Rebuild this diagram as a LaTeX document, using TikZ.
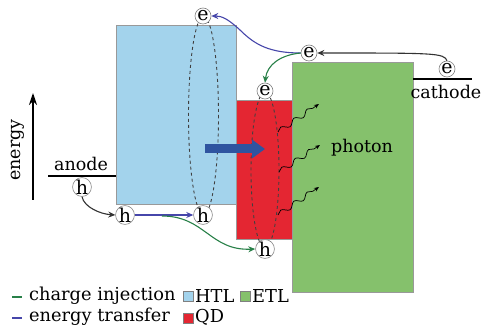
\documentclass[tikz,border=0pt]{standalone}
\usepackage{fontspec}
\setmainfont{DejaVu Serif}
\usetikzlibrary{arrows.meta,decorations.pathmorphing}
\definecolor{htlc}{RGB}{163,211,236}
\definecolor{qdc}{RGB}{228,38,50}
\definecolor{etlc}{RGB}{133,193,108}
\definecolor{bigblue}{RGB}{47,84,160}
\definecolor{etr}{RGB}{70,70,170}
\definecolor{cinj}{RGB}{40,128,72}
\tikzset{
  layer/.style={draw=gray!80, line width=0.6pt},
  carrier/.style={circle, draw=gray, fill=white, line width=0.6pt, inner sep=0pt, minimum size=16pt, font=\fontsize{19}{19}\selectfont},
  lbl/.style={font=\fontsize{17.5}{17.5}\selectfont, inner sep=0pt},
  leg/.style={font=\fontsize{17.8}{17.8}\selectfont, inner sep=0pt},
  ell/.style={dashed, draw=black!75, line width=0.9pt},
  arr/.style={line width=1.1pt, -{Stealth[length=7pt,width=6pt]}},
  wave/.style={line width=0.7pt, -{Stealth[length=5pt,width=4pt]}, decorate, decoration={snake, amplitude=2.5pt, segment length=16pt, post length=4pt}},
  sq/.style={draw=gray, line width=0.5pt, minimum size=10pt, inner sep=0pt}
}
\begin{document}
\begin{tikzpicture}[x=1pt,y=-1pt]
\useasboundingbox (0,0) rectangle (487,328);
% layers
\path[layer, fill=htlc] (116,25) rectangle (236,204);
\path[layer, fill=etlc] (292,62) rectangle (413,292);
\path[layer, fill=qdc] (236,100) rectangle (292,239);
% electrodes
\coordinate (anodeL) at (48,176);
\coordinate (anodeR) at (116,176);
\draw[line width=1.6pt] (anodeL) -- (anodeR);
\coordinate (cathL) at (413,79);
\coordinate (cathR) at (472,79);
\draw[line width=1.6pt] (cathL) -- (cathR);
\node[lbl] (anode) at (81,164) {anode};
\node[lbl] (cathode) at (446,92) {cathode};
\node[lbl] (photon) at (362,148) {photon};
% dashed ellipses
\draw[ell] (203.5,115.5) ellipse [x radius=15, y radius=99];
\draw[ell] (265,170) ellipse [x radius=14, y radius=78];
% big arrow
\coordinate (ba1) at (205,149);
\coordinate (ba2) at (265,149);
\draw[bigblue, line width=9pt, -{Triangle[length=13pt,width=18pt]}] (ba1) -- (ba2);
% photon waves
\coordinate (w1a) at (278,132); \coordinate (w1b) at (319,104);
\coordinate (w2a) at (279,172); \coordinate (w2b) at (320,145);
\coordinate (w3a) at (278,215); \coordinate (w3b) at (319,187);
\draw[wave] (w1a) -- (w1b);
\draw[wave] (w2a) -- (w2b);
\draw[wave] (w3a) -- (w3b);
% carriers
\node[carrier] (eH) at (203,16) {e};
\node[carrier] (eE) at (309,53) {e};
\node[carrier] (eC) at (447,69) {e};
\node[carrier] (eQ) at (265,91) {e};
\node[carrier] (hA) at (82,187) {h};
\node[carrier] (hH1) at (125,215) {h};
\node[carrier] (hH2) at (203,215) {h};
\node[carrier] (hQ) at (265,249) {h};
% connectors
\draw[arr, black!80] (eC.north) .. controls (444,53) and (435,53) .. (eE.east);
\draw[arr, etr] (eE.west) .. controls (270,53) and (255,45) .. (240,30) .. controls (228,19) and (222,16) .. (eH.east);
\draw[arr, cinj] (eE.west) .. controls (280,55) and (267,65) .. (eQ.north);
\draw[arr, black!80] (hA.south) .. controls (84,207) and (100,214) .. (hH1.west);
\draw[arr, etr] (hH1.east) -- (hH2.west);
\coordinate (cj) at (162,216);
\draw[arr, cinj] (cj) .. controls (205,216) and (210,251) .. (hQ.west);
% energy axis
\coordinate (en0) at (33,200);
\coordinate (en1) at (33,93);
\draw[line width=1.6pt, -{Stealth[length=12pt,width=8pt]}] (en0) -- (en1);
\node[lbl, rotate=90] (energy) at (18,150) {energy};
% legend
\coordinate (g1a) at (12,297); \coordinate (g1b) at (22,297);
\draw[cinj, line width=1.5pt] (g1a) -- (g1b);
\node[leg, anchor=west] (t1) at (29,296) {charge injection};
\node[sq, fill=htlc] (s1) at (188,296) {};
\node[leg, anchor=west] (t2) at (195,296) {HTL};
\node[sq, fill=etlc] (s2) at (245,296) {};
\node[leg, anchor=west] (t3) at (252,296) {ETL};
\coordinate (g2a) at (12,318); \coordinate (g2b) at (22,318);
\draw[etr, line width=1.5pt] (g2a) -- (g2b);
\node[leg, anchor=west] (t4) at (29,317) {energy transfer};
\node[sq, fill=qdc] (s3) at (188,318) {};
\node[leg, anchor=west] (t5) at (195,317) {QD};
\end{tikzpicture}
\end{document}
